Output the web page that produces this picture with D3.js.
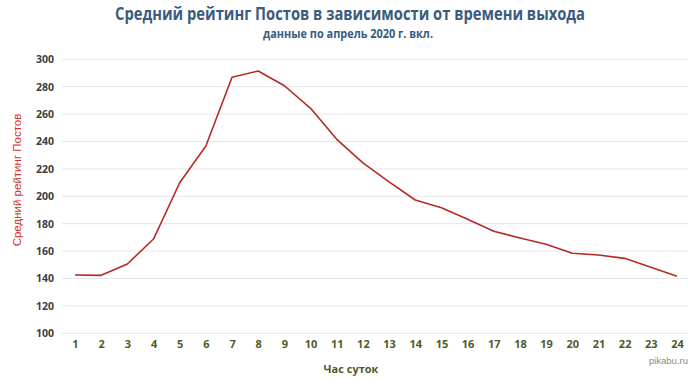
<!DOCTYPE html>
<html><head><meta charset="utf-8">
<script src="https://cdn.jsdelivr.net/npm/d3@7"></script>
<style>body{margin:0;background:#fff}svg{display:block}</style>
</head><body>
<script>
const hours = [1,2,3,4,5,6,7,8,9,10,11,12,13,14,15,16,17,18,19,20,21,22,23,24];
const rating = [142.5,142.3,150.6,168.8,209.9,236.7,286.9,291.5,280.7,264.2,241.6,224.4,210.5,197.3,191.7,183.2,174.5,169.6,165.0,158.4,157.2,154.7,148.2,141.6];
const yTicks = [100,120,140,160,180,200,220,240,260,280,300];
const title = "Средний рейтинг Постов в зависимости от времени выхода";
const subtitle = "данные по апрель 2020 г. вкл.";
const yTitle = "Средний рейтинг Постов";
const xTitle = "Час суток";

const W=700,H=378;
const svg=d3.select("body").append("svg").attr("width",W).attr("height",H);
const x=d3.scalePoint().domain(hours).range([75,677]);
const y=d3.scaleLinear().domain([100,300]).range([333.3,59.3]);

svg.append("text").attr("x",350).attr("y",20).attr("text-anchor","middle")
 .attr("font-family","Open Sans").attr("font-weight","bold").attr("font-size",17.5)
 .attr("fill","#3b5a7e").attr("textLength",470).attr("lengthAdjust","spacingAndGlyphs").text(title);
svg.append("text").attr("x",348).attr("y",38).attr("text-anchor","middle")
 .attr("font-family","Open Sans").attr("font-weight","bold").attr("font-size",11.5)
 .attr("fill","#3b5a7e").attr("textLength",170).attr("lengthAdjust","spacingAndGlyphs").text(subtitle);

// gridlines
svg.append("g").selectAll("line").data(yTicks).join("line")
 .attr("x1",62).attr("x2",688).attr("y1",d=>y(d)).attr("y2",d=>y(d))
 .attr("stroke","#e6e6e6").attr("stroke-width",1);

// y axis
const ya=svg.append("g").attr("transform","translate(62,0)")
 .call(d3.axisLeft(y).tickValues(yTicks).tickSize(0).tickPadding(8));
ya.select(".domain").remove();
ya.selectAll("text").attr("font-family","Open Sans").attr("font-weight","bold").attr("font-size",10.5).attr("fill","#404040");

// x axis
const xa=svg.append("g").attr("transform","translate(0,340)")
 .call(d3.axisBottom(x).tickSize(0).tickPadding(0));
xa.select(".domain").remove();
xa.selectAll("text").attr("font-family","Open Sans").attr("font-weight","bold").attr("font-size",11).attr("fill","#4f5a26").attr("dy","0.71em");

svg.append("text").attr("transform","translate(21,180) rotate(-90)").attr("text-anchor","middle")
 .attr("font-family","Liberation Sans").attr("font-size",11.5).attr("fill","#d0312d").text(yTitle);
svg.append("text").attr("x",351).attr("y",373).attr("text-anchor","middle")
 .attr("font-family","Open Sans").attr("font-weight","bold").attr("font-size",11).attr("fill","#4f5a26").text(xTitle);
svg.append("text").attr("x",688).attr("y",364).attr("text-anchor","end")
 .attr("font-family","Liberation Sans").attr("font-size",9.5).attr("fill","#8a8a8a").text("pikabu.ru");

const line=d3.line().x((d,i)=>x(hours[i])).y(d=>y(d));
svg.append("path").datum(rating).attr("d",line).attr("fill","none")
 .attr("stroke","#b52a25").attr("stroke-width",1.6).attr("stroke-linejoin","round");
</script>
</body></html>
